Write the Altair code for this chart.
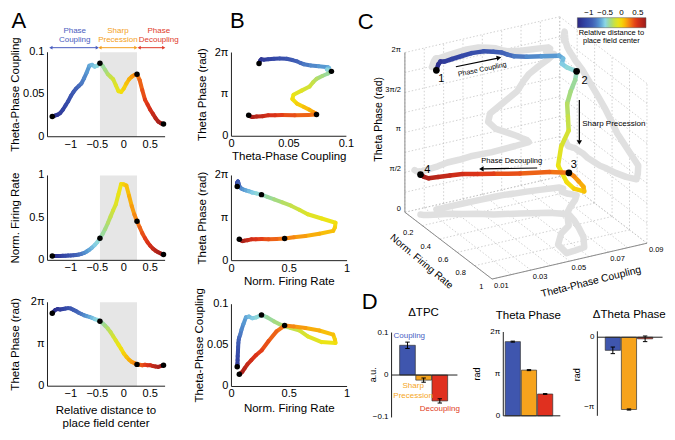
import altair as alt
import numpy as np
import pandas as pd

# ---------------- data ----------------
dist = [-1.35, -1.30, -1.25, -1.20, -1.15, -1.10, -1.05, -1.00, -0.95, -0.90,
        -0.85, -0.80, -0.75, -0.70, -0.65, -0.60, -0.55, -0.50, -0.45, -0.40,
        -0.35, -0.30, -0.25, -0.20, -0.15, -0.10, -0.05, 0.00, 0.05, 0.10,
        0.15, 0.20, 0.25, 0.30, 0.35, 0.40, 0.45, 0.50, 0.55, 0.60,
        0.65, 0.70, 0.75]
tpc = [0.024, 0.025, 0.026, 0.028, 0.032, 0.037, 0.042, 0.048, 0.053, 0.057,
       0.060, 0.063, 0.069, 0.076, 0.084, 0.085, 0.083, 0.084, 0.087, 0.084,
       0.079, 0.074, 0.071, 0.068, 0.061, 0.054, 0.053, 0.057, 0.063, 0.068,
       0.071, 0.073, 0.074, 0.067, 0.055, 0.044, 0.038, 0.032, 0.027, 0.022,
       0.018, 0.016, 0.015]
rate = [0.050, 0.050, 0.052, 0.052, 0.053, 0.054, 0.056, 0.058, 0.060, 0.063,
        0.068, 0.076, 0.087, 0.104, 0.125, 0.150, 0.180, 0.215, 0.260, 0.310,
        0.370, 0.440, 0.515, 0.590, 0.660, 0.780, 0.900, 0.895, 0.880, 0.760,
        0.640, 0.540, 0.460, 0.390, 0.320, 0.262, 0.212, 0.172, 0.138, 0.114,
        0.095, 0.080, 0.068]
phase = [1.74, 1.81, 1.84, 1.83, 1.84, 1.85, 1.86, 1.85, 1.82, 1.79,   # units of pi
         1.75, 1.72, 1.69, 1.67, 1.65, 1.63, 1.60, 1.58, 1.55, 1.50,
         1.44, 1.37, 1.29, 1.19, 1.09, 0.99, 0.89, 0.78, 0.70, 0.63,
         0.58, 0.55, 0.52, 0.51, 0.50, 0.51, 0.50, 0.50, 0.48, 0.47,
         0.46, 0.48, 0.50]
key_idx = [0, 18, 32, 42]
key_names = ["1", "2", "3", "4"]
shade_range = [-0.45, 0.25]

bar_cats = ["Coupling", "Sharp Precession", "Decoupling"]
bar_pos = [1, 2, 3]
bar_colors = ["#3f56ae", "#f6a31c", "#e0301f"]
d_tpc = [0.070, -0.012, -0.061]
d_tpc_err = [0.0075, 0.0050, 0.0050]
theta_ph = [1.77, 1.09, 0.52]
theta_ph_err = [0.012, 0.012, 0.010]
d_theta = [-0.187, -1.03, -0.023]
d_theta_err = [0.047, 0.008, 0.040]

cmap_stops = [-1.35, -1.10, -0.85, -0.65, -0.50, -0.35, -0.20, -0.05, 0.10, 0.25, 0.45, 0.75]
cmap_colors = ["#2b2783", "#3346a6", "#4364b8", "#5a9fd6", "#8bd6e6", "#9ed98c",
               "#cfe23a", "#f2e40e", "#f9b808", "#f47d14", "#e03418", "#9a1c1c"]
cbar_ticks = [-1, -0.5, 0, 0.5]
cbar_labels = ["−1", "−0.5", "0", "0.5"]

# axis ticks / labels
a_xticks = [-1, -0.5, 0, 0.5]
a_xlabels = ["−1", "−0.5", "0", "0.5"]
tpc_ticks = [0, 0.05, 0.1]
tpc_labels = ["0", "0.05", "0.1"]
rate_ticks = [0, 0.5, 1]
rate_labels = ["0", "0.5", "1"]
ph_ticks = [0, 1, 2]
ph_labels = ["0", "π", "2π"]

# 3-D box ticks
t_ticks = [0.01, 0.02, 0.03, 0.04, 0.05, 0.06, 0.07, 0.08, 0.09]
r_ticks = [0.0, 0.2, 0.4, 0.6, 0.8, 1.0]
p_ticks = [0.0, 0.25, 0.5, 0.75, 1.0, 1.25, 1.5, 1.75, 2.0]
t_labels = ["0.01", "0.03", "0.05", "0.07", "0.09"]
t_label_vals = [0.01, 0.03, 0.05, 0.07, 0.09]
r_labels = ["0.2", "0.4", "0.6", "0.8", "1"]
r_label_vals = [0.2, 0.4, 0.6, 0.8, 1.0]
p_labels = ["0", "π/2", "π", "3π/2", "2π"]
p_label_vals = [0.0, 0.5, 1.0, 1.5, 2.0]

# ---------------- layout helpers ----------------
W, H = 659, 424
FONT = "Liberation Sans"
AX = "#222222"


def X(v):
    return (v - 3.0) * 0.98


def Y(v):
    return (v - 2.0) * 0.968


def lin(domain, r0, r1):
    return alt.Scale(domain=domain, range=[r0, r1], nice=False, zero=False)


def enc_xy(xs, ys, xf="x", yf="y"):
    return dict(x=alt.X(f"{xf}:Q", scale=xs, axis=None), y=alt.Y(f"{yf}:Q", scale=ys, axis=None))


def axes_layers(xs, ys, xdom, ydom, yvals, ylabs, xvals=None, xlabs=None, base=None, fs=11):
    base = ydom[0] if base is None else base
    out = []
    ydf = pd.DataFrame({"x": [xdom[0]], "y0": [ydom[0]], "y1": [ydom[1]]})
    out.append(alt.Chart(ydf).mark_rule(color=AX, strokeWidth=1).encode(
        x=alt.X("x:Q", scale=xs, axis=None), y=alt.Y("y0:Q", scale=ys, axis=None),
        y2=alt.Y2("y1")))
    xdf = pd.DataFrame({"x0": [xdom[0]], "x1": [xdom[1]], "y": [base]})
    out.append(alt.Chart(xdf).mark_rule(color=AX, strokeWidth=1).encode(
        x=alt.X("x0:Q", scale=xs, axis=None), x2=alt.X2("x1"),
        y=alt.Y("y:Q", scale=ys, axis=None)))
    ldf = pd.DataFrame({"x": [xdom[0]] * len(yvals), "y": yvals, "text": ylabs})
    out.append(alt.Chart(ldf).mark_text(fontSize=fs, align="right", dx=-3, color="black").encode(
        text="text:N", **enc_xy(xs, ys)))
    if xvals is not None:
        xl = pd.DataFrame({"x": xvals, "y": [ydom[0]] * len(xvals), "text": xlabs})
        out.append(alt.Chart(xl).mark_text(fontSize=fs, baseline="top", dy=2, color="black").encode(
            text="text:N", **enc_xy(xs, ys)))
    return out


CB_X0, CB_X1 = 584, 654
cscale = alt.Scale(domain=cmap_stops, range=cmap_colors, interpolate="rgb")
cleg = alt.Legend(orient="none", legendX=X(CB_X0), legendY=Y(12), direction="horizontal",
                  gradientLength=X(CB_X1) - X(CB_X0), gradientThickness=10,
                  labelExpr="''", labelFontSize=1, labelOffset=0, labelOpacity=0,
                  title=["Relative distance to", "place field center"], titleOrient="bottom",
                  titleFontSize=7.5, titleFontWeight="normal", titleAnchor="middle",
                  titlePadding=0, titleLineHeight=8, titleColor="black",
                  gradientStrokeColor="#555", gradientStrokeWidth=0.5, padding=0)

# ---------------- frames ----------------
d = np.array(dist)
t = np.array(tpc)
r = np.array(rate)
p = np.array(phase)
n = len(d)


def proj(tt, rr, pp):
    tt = np.asarray(tt, float)
    rr = np.asarray(rr, float)
    pp = np.asarray(pp, float)
    u = (tt - 0.01) / 0.08
    return 408 + 158 * u + 89 * rr, 213 - 37 * u + 69 * rr - 82.5 * pp


px, py = proj(t, r, p)
seg = pd.DataFrame({"d0": d[:-1], "d1": d[1:], "t0": t[:-1], "t1": t[1:],
                    "r0": r[:-1], "r1": r[1:], "p0": p[:-1], "p1": p[1:],
                    "x0": px[:-1], "x1": px[1:], "y0": py[:-1], "y1": py[1:],
                    "c": (d[:-1] + d[1:]) / 2})
keys = pd.DataFrame({"d": d[key_idx], "t": t[key_idx], "r": r[key_idx], "p": p[key_idx],
                     "x": px[key_idx], "y": py[key_idx], "name": key_names})


def curve_layers(xf, yf, xs, ys):
    segs = alt.Chart(seg).mark_rule(strokeWidth=4, strokeCap="round").encode(
        x=alt.X(f"{xf}0:Q", scale=xs, axis=None), x2=alt.X2(f"{xf}1"),
        y=alt.Y(f"{yf}0:Q", scale=ys, axis=None), y2=alt.Y2(f"{yf}1"),
        color=alt.Color("c:Q", scale=cscale, legend=cleg))
    dots = alt.Chart(keys).mark_circle(size=30, color="black", opacity=1).encode(
        **enc_xy(xs, ys, xf, yf))
    return [segs, dots]


# ---------------- panel A ----------------
A_XDOM = [-1.44, 0.78]
xsA = lin(A_XDOM, X(43.3), X(163.3))


def panelA(yf, ydom, ybot, ytop, yvals, ylabs, extra=()):
    ys = lin(ydom, Y(ybot), Y(ytop))
    sdf = pd.DataFrame({"lo": [shade_range[0]], "hi": [shade_range[1]],
                        "ylo": [ydom[0]], "yhi": [ydom[1]]})
    shade = alt.Chart(sdf).mark_rect(color="#e6e6e6").encode(
        x=alt.X("lo:Q", scale=xsA, axis=None), x2=alt.X2("hi"),
        y=alt.Y("ylo:Q", scale=ys, axis=None), y2=alt.Y2("yhi"))
    layers = [shade] + axes_layers(xsA, ys, A_XDOM, ydom, yvals, ylabs, a_xticks, a_xlabels)
    layers += curve_layers("d", yf, xsA, ys)
    for f in extra:
        layers += f(ys)
    return alt.layer(*layers)


annot_groups = [
    ("#4a5dc0", -0.926, ["Phase", "Coupling"], -1.376, -0.50),
    ("#f4a020", -0.11, ["Sharp", "Precession"], -0.45, 0.228),
    ("#e03a2a", 0.66, ["Phase", "Decoupling"], 0.29, 0.754),
]


def a1_annotations(ys):
    out = []
    for col, cx, words, a0, a1 in annot_groups:
        tdf = pd.DataFrame({"x": [cx, cx], "y": [0.1249, 0.1146], "text": words})
        out.append(alt.Chart(tdf).mark_text(fontSize=8, color=col).encode(
            text="text:N", **enc_xy(xsA, ys)))
        adf = pd.DataFrame({"a0": [a0], "a1": [a1], "y": [0.1054]})
        out.append(alt.Chart(adf).mark_rule(color=col, strokeWidth=1).encode(
            x=alt.X("a0:Q", scale=xsA, axis=None), x2=alt.X2("a1"),
            y=alt.Y("y:Q", scale=ys, axis=None)))
        out.append(alt.Chart(adf).mark_point(shape="triangle-left", filled=True, size=14,
                                             color=col, opacity=1).encode(
            **enc_xy(xsA, ys, "a0", "y")))
        out.append(alt.Chart(adf).mark_point(shape="triangle-right", filled=True, size=14,
                                             color=col, opacity=1).encode(
            **enc_xy(xsA, ys, "a1", "y")))
    return out


A1 = panelA("t", [0, 0.1], 135, 47.7, tpc_ticks, tpc_labels, extra=(a1_annotations,))
A2 = panelA("r", [0, 1], 262.7, 175, rate_ticks, rate_labels)
A3 = panelA("p", [0, 2], 392.7, 306, ph_ticks, ph_labels)

# ---------------- panel B ----------------


def panelB(xf, yf, xdom, x1px, ydom, ybot, ytop, xv, xl, yv, yl):
    xs = lin(xdom, X(231), X(x1px))
    ys = lin(ydom, Y(ybot), Y(ytop))
    return alt.layer(*(axes_layers(xs, ys, xdom, ydom, yv, yl, xv, xl) +
                       curve_layers(xf, yf, xs, ys)))


B1 = panelB("t", "p", [0, 0.1], 348.3, [0, 2], 134.5, 48, tpc_ticks, tpc_labels, ph_ticks, ph_labels)
B2 = panelB("r", "p", [0, 1], 349, [0, 2], 263, 175, rate_ticks, rate_labels, ph_ticks, ph_labels)
B3 = panelB("r", "t", [0, 1], 349, [0, 0.1], 393, 308, rate_ticks, rate_labels, tpc_ticks, tpc_labels)

# ---------------- panel C (3-D) + figure-level text ----------------
xs3 = lin([0, 675], X(0), X(675))
ys3 = lin([0, 440], Y(0), Y(440))


def rule_frame(pairs):
    a = np.array([q[0] for q in pairs], float)
    b = np.array([q[1] for q in pairs], float)
    xa, ya = proj(a[:, 0], a[:, 1], a[:, 2])
    xb, yb = proj(b[:, 0], b[:, 1], b[:, 2])
    return pd.DataFrame({"x0": xa, "y0": ya, "x1": xb, "y1": yb})


grid_pairs = []
for tt in t_ticks:
    grid_pairs.append(((tt, 0, 0), (tt, 0, 2)))
    grid_pairs.append(((tt, 0, 0), (tt, 1, 0)))
for pp in p_ticks:
    grid_pairs.append(((0.01, 0, pp), (0.09, 0, pp)))
    grid_pairs.append(((0.09, 0, pp), (0.09, 1, pp)))
for rr in r_ticks:
    grid_pairs.append(((0.01, rr, 0), (0.09, rr, 0)))
    grid_pairs.append(((0.09, rr, 0), (0.09, rr, 2)))
edge_pairs = [((0.01, 0, 0), (0.01, 0, 2)), ((0.01, 0, 0), (0.01, 1, 0)), ((0.01, 1, 0), (0.09, 1, 0))]


def rules3(df, **kw):
    return alt.Chart(df).mark_rule(**kw).encode(
        x=alt.X("x0:Q", scale=xs3, axis=None), x2=alt.X2("x1"),
        y=alt.Y("y0:Q", scale=ys3, axis=None), y2=alt.Y2("y1"))


def text3(df, **kw):
    return alt.Chart(df).mark_text(**kw).encode(text="text:N", **enc_xy(xs3, ys3))


bx, by = proj(t, np.zeros(n), p)
fx, fy = proj(t, r, np.zeros(n))
rx, ry = proj(np.full(n, 0.09), r, p)
shadow = pd.DataFrame({"x": np.concatenate([bx, fx, rx]), "y": np.concatenate([by, fy, ry]),
                       "wall": ["back"] * n + ["floor"] * n + ["right"] * n,
                       "ord": list(range(n)) * 3})

c_layers = [
    rules3(rule_frame(grid_pairs), color="#bdbdbd", strokeWidth=0.7, strokeDash=[1.5, 2]),
    rules3(rule_frame(edge_pairs), color="#8c8c8c", strokeWidth=1),
    alt.Chart(shadow).mark_line(color="#e0e0e0", strokeWidth=6.5, strokeCap="round",
                                strokeJoin="round").encode(
        detail="wall:N", order="ord:Q", **enc_xy(xs3, ys3)),
    alt.Chart(seg).mark_rule(strokeWidth=4.5, strokeCap="round").encode(
        x=alt.X("x0:Q", scale=xs3, axis=None), x2=alt.X2("x1"),
        y=alt.Y("y0:Q", scale=ys3, axis=None), y2=alt.Y2("y1"),
        color=alt.Color("c:Q", scale=cscale, legend=cleg)),
    alt.Chart(keys).mark_circle(size=45, color="black", opacity=1).encode(**enc_xy(xs3, ys3)),
]
num_off = [(5, 9), (8, 10), (5, -8), (7, -5)]
num_df = pd.DataFrame({"x": px[key_idx] + [o[0] for o in num_off],
                       "y": py[key_idx] + [o[1] for o in num_off], "text": key_names})
c_layers.append(text3(num_df, fontSize=11, color="black"))

# colour-bar tick labels (above the gradient legend)
cb_x = CB_X0 + (np.array(cbar_ticks) - cmap_stops[0]) / (cmap_stops[-1] - cmap_stops[0]) * (CB_X1 - CB_X0)
c_layers.append(text3(pd.DataFrame({"x": cb_x, "y": [7] * 4, "text": cbar_labels}),
                      fontSize=8, color="black"))

plx, ply = proj(np.full(5, 0.01), np.zeros(5), p_label_vals)
c_layers.append(text3(pd.DataFrame({"x": plx - 4, "y": ply - 3, "text": p_labels}),
                      fontSize=7.5, align="right", color="black"))
rlx, rly = proj(np.full(5, 0.01), r_label_vals, np.zeros(5))
c_layers.append(text3(pd.DataFrame({"x": rlx - 9, "y": rly + 8, "text": r_labels}),
                      fontSize=7.5, align="right", color="black"))
tlx, tly = proj(t_label_vals, np.ones(5), np.zeros(5))
c_layers.append(text3(pd.DataFrame({"x": tlx + 2, "y": tly + 7, "text": t_labels}),
                      fontSize=7.5, align="left", color="black"))

c_layers.append(text3(pd.DataFrame({"x": [382], "y": [117], "text": ["Theta Phase (rad)"]}),
                      fontSize=10.5, angle=270, color="black"))
c_layers.append(text3(pd.DataFrame({"x": [425], "y": [264], "text": ["Norm. Firing Rate"]}),
                      fontSize=10, angle=40, color="black"))
c_layers.append(text3(pd.DataFrame({"x": [598], "y": [285], "text": ["Theta-Phase Coupling"]}),
                      fontSize=10.3, angle=346, color="black"))

# arrows + annotation text in panel C
arrows = pd.DataFrame({"x0": [460, 586, 543], "y0": [62.7, 97, 167.3],
                       "x1": [503, 586, 488], "y1": [53.7, 139, 168.2]})
c_layers.append(rules3(arrows, color="black", strokeWidth=1.2))
head_x = [504, 586, 486]
head_y = [53.4, 141, 168.2]
head_shape = ["triangle-right", "triangle-down", "triangle-left"]
head_angle = [348, 0, 359]
for i in range(3):
    hdf = pd.DataFrame({"x": [head_x[i]], "y": [head_y[i]]})
    c_layers.append(alt.Chart(hdf).mark_point(
        shape=head_shape[i], angle=head_angle[i], filled=True, size=28,
        color="black", opacity=1).encode(**enc_xy(xs3, ys3)))
c_layers.append(text3(pd.DataFrame({"x": [487], "y": [65.5], "text": ["Phase Coupling"]}),
                      fontSize=7, angle=348, color="black"))
c_layers.append(text3(pd.DataFrame({"x": [589], "y": [122], "text": ["Sharp Precession"]}),
                      fontSize=8, align="left", color="black"))
c_layers.append(text3(pd.DataFrame({"x": [517], "y": [160], "text": ["Phase Decoupling"]}),
                      fontSize=7.5, color="black"))

# panel letters, axis titles and D titles (figure text, ref-pixel positions)
c_layers.append(text3(pd.DataFrame({"x": [14, 237, 368, 372], "y": [15, 15, 16, 306],
                                    "text": ["A", "B", "C", "D"]}), fontSize=22, color="black"))
c_layers.append(text3(pd.DataFrame({"x": [427, 534, 637], "y": [317, 320, 319],
                                    "text": ["ΔTPC", "Theta Phase", "ΔTheta Phase"]}),
                      fontSize=11.5, color="black"))
c_layers.append(text3(pd.DataFrame({
    "x": [11, 11, 11, 202, 202, 199],
    "y": [91.4, 219, 349.4, 91.4, 219, 350.5],
    "text": ["Theta-Phase Coupling", "Norm. Firing Rate", "Theta Phase (rad)",
             "Theta Phase (rad)", "Theta Phase (rad)", "Theta-Phase Coupling"]}),
    fontSize=11.5, angle=270, color="black"))
c_layers.append(text3(pd.DataFrame({
    "x": [103, 103, 290, 290, 290],
    "y": [418.3, 431.7, 156, 285, 416.7],
    "text": ["Relative distance to", "place field center", "Theta-Phase Coupling",
             "Norm. Firing Rate", "Norm. Firing Rate"]}),
    fontSize=11.5, color="black"))
c_layers.append(text3(pd.DataFrame({"x": [375, 482, 584], "y": [381, 380, 381],
                                    "text": ["a.u.", "rad", "rad"]}),
                      fontSize=9, angle=270, color="black"))
C = alt.layer(*c_layers)

# ---------------- panel D ----------------
fill_scale = alt.Scale(domain=bar_cats, range=bar_colors)


def bar_panel(vals, errs, c0, step, axis_x, end_x, bw, ydom, ybot, ytop, yvals, ylabs, extra=()):
    vals = np.array(vals)
    errs = np.array(errs)
    pos = np.array(bar_pos, float)
    half = 2.6 / step
    df = pd.DataFrame({"cat": bar_cats, "pos": pos, "v": vals, "lo": vals - errs,
                       "hi": vals + errs, "zero": np.zeros(3), "pl": pos - half, "pr": pos + half})
    xdom = [1 + (axis_x - c0) / step, 1 + (end_x - c0) / step]
    xs = lin(xdom, X(axis_x), X(end_x))
    ys = lin(ydom, Y(ybot), Y(ytop))
    bars = alt.Chart(df).mark_bar(stroke="#333", strokeWidth=0.7, width=bw * 0.98).encode(
        x=alt.X("pos:Q", scale=xs, axis=None), y=alt.Y("v:Q", scale=ys, axis=None),
        y2=alt.Y2("zero"), fill=alt.Fill("cat:N", scale=fill_scale, legend=None))
    err = alt.Chart(df).mark_rule(color="black", strokeWidth=1).encode(
        x=alt.X("pos:Q", scale=xs, axis=None), y=alt.Y("lo:Q", scale=ys, axis=None),
        y2=alt.Y2("hi"))
    caps = [alt.Chart(df).mark_rule(color="black", strokeWidth=1).encode(
        x=alt.X("pl:Q", scale=xs, axis=None), x2=alt.X2("pr"),
        y=alt.Y(f"{f}:Q", scale=ys, axis=None)) for f in ["lo", "hi"]]
    layers = [bars, err] + caps + axes_layers(xs, ys, xdom, ydom, yvals, ylabs, base=0, fs=8)
    for fn in extra:
        layers += fn(xs, ys)
    return alt.layer(*layers)


def d1_text(xs, ys):
    out = []
    specs = [(1, 0.092, "Coupling", -14, "left", "#4a5ec4"),
             (2, -0.027, "Sharp", -10.5, "center", "#f5a623"),
             (2, -0.049, "Precession", -10.5, "center", "#f5a623"),
             (3, -0.0795, "Decoupling", 0, "center", "#e03a22")]
    for pos, yv, txt, dx, al, col in specs:
        tdf = pd.DataFrame({"x": [pos], "y": [yv], "text": [txt]})
        out.append(alt.Chart(tdf).mark_text(fontSize=8, dx=dx, align=al, color=col).encode(
            text="text:N", **enc_xy(xs, ys)))
    return out


D1 = bar_panel(d_tpc, d_tpc_err, 408, 19, 389.3, 466.7, 16, [-0.1, 0.1], 425, 337.3,
               [-0.1, 0, 0.1], ["−0.1", "0", "0.1"], extra=(d1_text,))
D2 = bar_panel(theta_ph, theta_ph_err, 514.7, 19.4, 503.3, 571.7, 15.5, [0, 2], 423.3, 336.7,
               [0, 1, 2], ["0", "π", "2π"])
D3 = bar_panel(d_theta, d_theta_err, 617.5, 19, 599.3, 676, 15.5, [-1.12, 0.084], 423.3, 336,
               [-1, 0], ["−π", "0"])

chart = alt.layer(A1, A2, A3, B1, B2, B3, C, D1, D2, D3).resolve_scale(
    x="independent", y="independent").properties(
    width=W, height=H, padding=0, autosize=alt.AutoSizeParams(type="none")
).configure(font=FONT).configure_view(stroke=None)

chart.save("out.html", embed_options={"renderer": "svg", "actions": False})
